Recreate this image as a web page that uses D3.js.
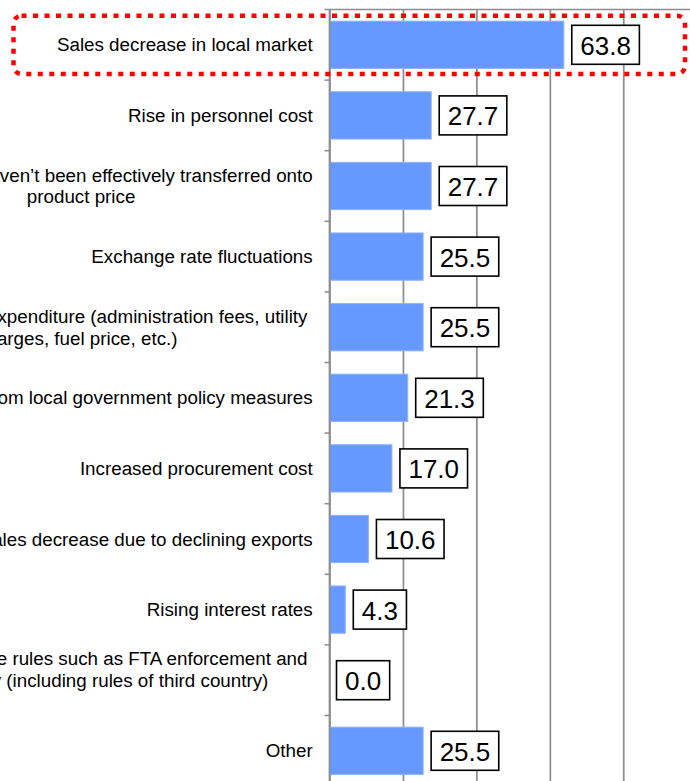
<!DOCTYPE html>
<html>
<head>
<meta charset="utf-8">
<script src="https://cdn.jsdelivr.net/npm/d3@7"></script>
<style>
  html, body { margin: 0; padding: 0; background: #fff; }
  svg { display: block; }
  text { font-family: "Liberation Sans", Arial, sans-serif; white-space: pre; }
</style>
</head>
<body>
<svg id="chart" width="690" height="781"></svg>
<script>
// ---- data ----
const categories = [
  "Sales decrease in local market",
  "Rise in personnel cost",
  "Cost increases haven\u2019t been effectively transferred onto\nproduct price",
  "Exchange rate fluctuations",
  "Increase in other expenditure (administration fees, utility \ncharges, fuel price, etc.)",
  "Impact from local government policy measures",
  "Increased procurement cost",
  "Sales decrease due to declining exports",
  "Rising interest rates",
  "Changes in the trade environment from trade rules such as FTA enforcement and \nthe revisions of the national tariff policy (including rules of third country)\netc.",
  "Other"
];
const values = [63.8, 27.7, 27.7, 25.5, 25.5, 21.3, 17.0, 10.6, 4.3, 0.0, 25.5];
const gridTicks = [0, 20, 40, 60, 80, 100];
const highlighted = ["Sales decrease in local market"];

// ---- layout ----
const W = 690, H = 781;
const plotLeft = 329.5, plotRight = 696.7, plotTop = 9.5, plotBottom = 786.1;
const labelFont = 18.8, valueFont = 26, lineH = 21.8;

const svg = d3.select("#chart");

const x = d3.scaleLinear().domain([0, 100]).range([plotLeft, plotRight]);
const y = d3.scaleBand().domain(categories).range([plotTop, plotBottom])
  .paddingInner(0.33).paddingOuter(0.165);
const step = y.step();
const bandStart = c => y(c) - y.paddingOuter() * step;

// gridlines
const grid = svg.append("g")
  .attr("transform", `translate(0,${plotBottom})`)
  .call(d3.axisBottom(x).tickValues(gridTicks).tickSize(-(plotBottom - plotTop)).tickFormat(""));
grid.select(".domain").remove();
grid.selectAll(".tick line").attr("stroke", "#8c8c8c").attr("stroke-width", 1.7);

// plot top border
svg.append("line")
  .attr("x1", plotLeft).attr("x2", plotRight)
  .attr("y1", plotTop).attr("y2", plotTop)
  .attr("stroke", "#8c8c8c").attr("stroke-width", 1.7);

// bars
svg.append("g").selectAll("rect")
  .data(categories)
  .join("rect")
  .attr("x", x(0))
  .attr("y", c => y(c))
  .attr("width", (c, i) => x(values[i]) - x(0))
  .attr("height", y.bandwidth())
  .attr("fill", "#6699ff")
  .attr("stroke", (c, i) => values[i] > 0 ? "#8fb3ff" : "none")
  .attr("stroke-width", 1);

// category axis line & boundary ticks
svg.append("line")
  .attr("x1", plotLeft).attr("x2", plotLeft)
  .attr("y1", plotTop).attr("y2", plotBottom)
  .attr("stroke", "#8c8c8c").attr("stroke-width", 1.7);
svg.append("g").selectAll("line")
  .data(categories)
  .join("line")
  .attr("x1", plotLeft - 5).attr("x2", plotLeft)
  .attr("y1", c => bandStart(c)).attr("y2", c => bandStart(c))
  .attr("stroke", "#8c8c8c").attr("stroke-width", 1.5);

// category labels (multi-line, centered block, right aligned)
const labelRight = plotLeft - 16.8;
const lg = svg.append("g");
categories.forEach(c => {
  const lines = c.split("\n");
  const cy = y(c) + y.bandwidth() / 2;
  const t = lg.append("text")
    .attr("font-size", labelFont)
    .attr("fill", "#000")
    .attr("text-anchor", "middle");
  const spans = lines.map((ln, k) =>
    t.append("tspan")
      .attr("y", cy - (lines.length - 1) * lineH / 2 + k * lineH + 0.35 * labelFont)
      .text(ln));
  const maxW = d3.max(spans, s => s.node().getComputedTextLength());
  spans.forEach(s => s.attr("x", labelRight - maxW / 2));
});

// value labels with boxes
const vg = svg.append("g");
categories.forEach((c, i) => {
  const cy = y(c) + y.bandwidth() / 2;
  const bx = x(values[i]) + (values[i] > 0 ? 8 : 7);
  const g = vg.append("g");
  const box = g.append("rect");
  const t = g.append("text")
    .attr("font-size", valueFont)
    .attr("fill", "#000")
    .attr("x", bx + 8.5)
    .attr("y", cy + 10)
    .text(values[i].toFixed(1));
  const tw = t.node().getComputedTextLength();
  box.attr("x", bx).attr("y", cy - 19.5)
    .attr("width", tw + 17).attr("height", 39)
    .attr("fill", "#fff").attr("stroke", "#000").attr("stroke-width", 1.6);
});

// highlight frame
highlighted.forEach(c => {
  svg.append("rect")
    .attr("x", 13.5)
    .attr("y", y(c) - 5.5)
    .attr("width", 685 - 13.5)
    .attr("height", y.bandwidth() + 11)
    .attr("rx", 8).attr("ry", 8)
    .attr("fill", "none")
    .attr("stroke", "#ff0000")
    .attr("stroke-width", 4.5)
    .attr("stroke-dasharray", "5,6.5");
});
</script>
</body>
</html>
